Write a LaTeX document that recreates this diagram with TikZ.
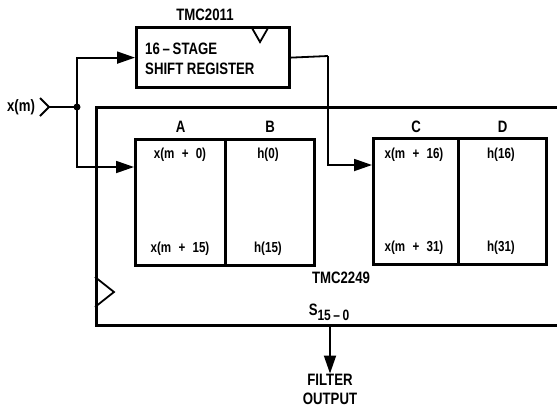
\documentclass[tikz,border=0pt]{standalone}
\usepackage{fontspec}
\setmainfont{Liberation Sans}[FakeStretch=0.8]
\usetikzlibrary{arrows.meta}

\tikzset{
  chip/.style={draw,line width=3.2pt,inner sep=0pt,anchor=north west},
  wire/.style={line width=1.8pt},
  arr/.style={wire,-{Triangle[length=18pt,width=12pt]}},
  lbl/.style={font=\bfseries\fontsize{16.5}{19}\selectfont,inner sep=0pt},
  cell/.style={font=\bfseries\fontsize{14.5}{16}\selectfont,inner sep=0pt}
}

\begin{document}
\begin{tikzpicture}[x=1pt,y=-1pt]
\useasboundingbox (0,0) rectangle (557,408);
\clip (0,0) rectangle (557,408);
% boxes
\node[chip,minimum width=153pt,minimum height=60pt] (shiftreg) at (135,26) {};
\node[chip,minimum width=520pt,minimum height=218pt] (mac) at (95,106) {};
\node[chip,minimum width=90pt,minimum height=126pt] (cella) at (134,138) {};
\node[chip,minimum width=89pt,minimum height=126pt] (cellb) at (224,138) {};
\node[chip,minimum width=85pt,minimum height=126pt] (cellc) at (372,137) {};
\node[chip,minimum width=88pt,minimum height=126pt] (celld) at (457,137) {};
% labels
\node[lbl] (tmcsr) at (205,15) {TMC2011};
\node[lbl,anchor=west,align=left] (srtext) at (145,59) {16\,–\,STAGE\\[1pt]SHIFT REGISTER};
\node[lbl] (tmcmac) at (341,278) {TMC2249};
\node[lbl] (xin) at (21,107) {x(m)};
\node[lbl] at (cella.north |- 0,127) {A};
\node[lbl] at (cellb.north |- 0,127) {B};
\node[lbl] at (cellc.north |- 0,127) {C};
\node[lbl] at (celld.north |- 0,127) {D};
\node[cell] at (180,155) {x(m\enspace+\enspace0)};
\node[cell] at (268,155) {h(0)};
\node[cell] at (180,249) {x(m\enspace+\enspace15)};
\node[cell] at (268,249) {h(15)};
\node[cell] at (414,155) {x(m\enspace+\enspace16)};
\node[cell] at (501,155) {h(16)};
\node[cell] at (414,248) {x(m\enspace+\enspace31)};
\node[cell] at (501,248) {h(31)};
\node[lbl] (sum) at (329,312) {S\raisebox{-5pt}{\fontsize{15}{16}\selectfont 15\,–\,0}};
\node[lbl,align=center] (fout) at (330,389) {FILTER\\[0pt]OUTPUT};
% clock marks
\draw[wire] (252,28) -- (260,42) -- (268,28);
\draw[wire] (95,277) -- (114,292) -- (95,307);
% input and wires
\coordinate (jack) at (49,107);
\coordinate (split) at (77,107);
\coordinate (tap) at (328,56);
\coordinate (sout) at (330,324);
\draw[wire] (40,98) -- (jack) -- (40,116);
\draw[wire] (jack) -- (split);
\fill (split) circle (3.5pt);
\draw[arr] (split) |- (shiftreg.west);
\draw[arr] (split) |- ([yshift=-29pt]cella.north west);
\draw[wire] (shiftreg.east) -- (tap);
\draw[arr] (tap) |- ([yshift=-28pt]cellc.north west);
\draw[arr] (sout) -- (fout.north);
\end{tikzpicture}
\end{document}
